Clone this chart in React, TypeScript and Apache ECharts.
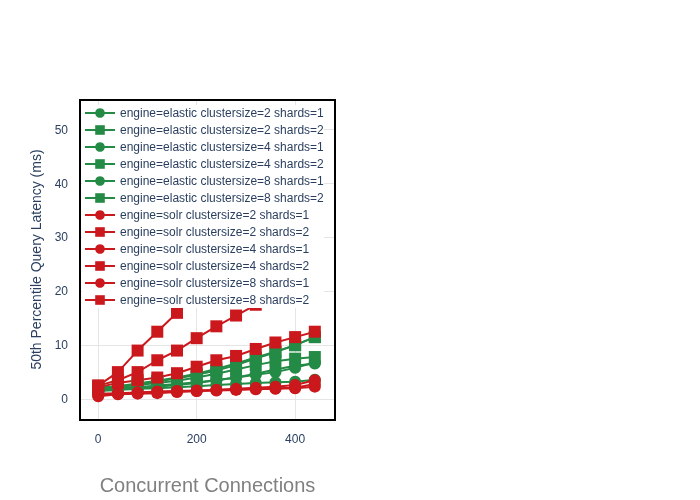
import * as echarts from "echarts";
import { useEffect, useRef } from "react";

const connections = [0, 40, 80, 120, 160, 200, 240, 280, 320, 360, 400, 440];
const yTicks = [0, 10, 20, 30, 40, 50];
const xTicks = [0, 200, 400];

const seriesNames = [
  "engine=elastic clustersize=2 shards=1",
  "engine=elastic clustersize=2 shards=2",
  "engine=elastic clustersize=4 shards=1",
  "engine=elastic clustersize=4 shards=2",
  "engine=elastic clustersize=8 shards=1",
  "engine=elastic clustersize=8 shards=2",
  "engine=solr clustersize=2 shards=1",
  "engine=solr clustersize=2 shards=2",
  "engine=solr clustersize=4 shards=1",
  "engine=solr clustersize=4 shards=2",
  "engine=solr clustersize=8 shards=1",
  "engine=solr clustersize=8 shards=2",
];

const seriesValues = [
  [1.8, 2, 2.2, 2.5, 2.8, 3.1, 3.5, 4, 4.5, 5, 5.8, 6.8],
  [2, 2.3, 2.8, 3.3, 3.8, 4.5, 5.3, 6.3, 7.5, 8.7, 10, 11.5],
  [1.5, 1.7, 1.9, 2, 2.2, 2.4, 2.6, 2.8, 3, 3.1, 3.2, 3.6],
  [2, 2.2, 2.6, 3, 3.4, 4, 4.7, 5.5, 6.3, 7, 7.5, 7.8],
  [1.6, 1.8, 2, 2.3, 2.6, 3, 3.5, 4, 4.7, 5.5, 6.2, 6.6],
  [2.1, 2.4, 2.9, 3.4, 4, 4.7, 5.6, 6.6, 7.7, 8.8, 10, 11.5],
  [1, 1.1, 1.2, 1.3, 1.4, 1.5, 1.6, 1.7, 1.8, 1.9, 2, 2.3],
  [2.5, 5, 9, 12.5, 16, 19.5, 23, 26.5, 30, 33.5, 37, 40],
  [0.7, 1, 1.2, 1.4, 1.5, 1.6, 1.7, 1.8, 1.9, 2, 2.1, 2.8],
  [2.5, 3.5, 5, 7.2, 9, 11.3, 13.5, 15.5, 17.5, 19.5, 21.5, 23.5],
  [0.5, 0.9, 1, 1.1, 1.3, 1.5, 1.7, 1.9, 2.1, 2.3, 2.6, 3.5],
  [2.2, 3, 3.5, 4, 4.8, 6, 7.2, 8, 9.3, 10.5, 11.5, 12.5],
];

const GREEN = "#238b45";
const RED = "#cb181d";

const App = () => {
  const chartRef = useRef<HTMLDivElement>(null);

  useEffect(() => {
    if (!chartRef.current) return;
    const chart = echarts.init(chartRef.current, undefined, { renderer: "svg" });
    const series: any[] = seriesNames.map((name, i) => ({
      name,
      type: "line",
      data: connections.map((c, j) => [c, seriesValues[i][j]]),
      symbol: i % 2 === 0 ? "circle" : "rect",
      symbolSize: 12,
      color: i < 6 ? GREEN : RED,
      lineStyle: { width: 2 },
      z: 3,
    }));
    series[0].markLine = {
      silent: true,
      symbol: "none",
      label: { show: false },
      lineStyle: { color: "#e5e5e5", type: "solid", width: 1 },
      data: [...xTicks.map((x) => ({ xAxis: x })), ...yTicks.map((y) => ({ yAxis: y }))],
      z: 1,
    };
    chart.setOption({
      animation: false,
      grid: { left: 80, top: 100, width: 255, height: 320, show: false },
      xAxis: {
        type: "value",
        min: -37,
        max: 481,
        splitLine: { show: false },
        axisLine: { show: false },
        axisTick: { show: false },
        axisLabel: { customValues: xTicks, color: "#2a3f5f", fontSize: 12, margin: 14 },
        name: "Concurrent Connections",
        nameLocation: "middle",
        nameGap: 56,
        nameTextStyle: { fontSize: 20, color: "#808080" },
      },
      yAxis: {
        type: "value",
        min: -3.7,
        max: 55.5,
        splitLine: { show: false },
        axisLine: { show: false },
        axisTick: { show: false },
        axisLabel: { customValues: yTicks, color: "#2a3f5f", fontSize: 12, margin: 12 },
        name: "50th Percentile Query Latency (ms)",
        nameLocation: "middle",
        nameGap: 37,
        nameTextStyle: { fontSize: 14, color: "#2a3f5f" },
      },
      legend: {
        orient: "vertical",
        left: 82,
        top: 105,
        itemGap: 5,
        itemWidth: 30,
        itemHeight: 12,
        backgroundColor: "#fff",
        padding: [2, 0, 2, 2],
        textStyle: {
          fontSize: 12,
          color: "#2a3f5f",
          width: 212,
          overflow: "truncate",
          ellipsis: "",
        },
        data: seriesNames,
      },
      graphic: [
        {
          type: "rect",
          shape: { x: 80, y: 100, width: 255, height: 320 },
          style: { fill: "none", stroke: "#000", lineWidth: 2 },
          z: 100,
        },
        {
          type: "rect",
          shape: { x: 336, y: 100, width: 40, height: 240 },
          style: { fill: "#fff" },
          z: 99,
        },
      ],
      series,
    });
    return () => chart.dispose();
  }, []);

  return (
    <div
      ref={chartRef}
      style={{ position: "fixed", left: 0, top: 0, width: 700, height: 500, fontFamily: "Open Sans" }}
    />
  );
};

export default App;
